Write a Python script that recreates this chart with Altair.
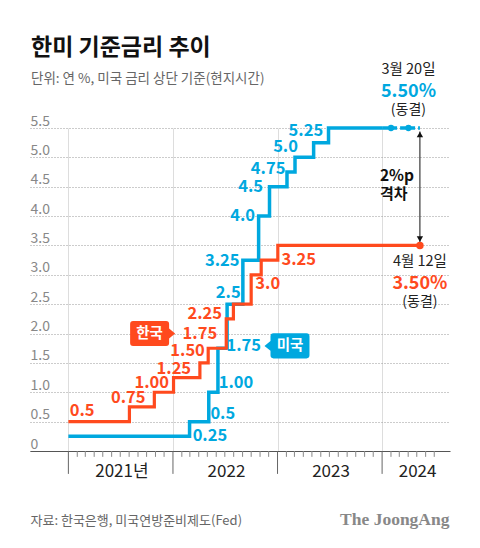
import altair as alt
import pandas as pd

# ---------------- data ----------------
# Korea base rate (red), step changes
kr_dates = ["2021-01-01", "2021-08-02", "2021-10-28", "2022-01-03", "2022-04-05", "2022-05-04",
            "2022-07-06", "2022-07-31", "2022-10-01", "2022-11-05", "2023-01-02", "2024-05-12"]
kr_rates = [0.5, 0.75, 1.0, 1.25, 1.5, 1.75, 2.25, 2.5, 3.0, 3.25, 3.5, 3.5]

# US fed funds upper bound (blue), step changes
us_dates = ["2021-01-01", "2022-02-28", "2022-05-06", "2022-06-07", "2022-07-09", "2022-09-02",
            "2022-10-27", "2022-12-04", "2023-02-03", "2023-03-03", "2023-05-07", "2023-06-28",
            "2024-01-01"]
us_rates = [0.25, 0.5, 1.0, 1.75, 2.5, 3.25, 4.0, 4.5, 4.75, 5.0, 5.25, 5.5, 5.5]
us_hold_dates = ["2024-01-01", "2024-05-12"]
us_hold_rates = [5.5, 5.5]
us_dot_dates = ["2024-02-01", "2024-04-02"]
us_dot_rates = [5.5, 5.5]
kr_dot_dates = ["2024-05-12"]
kr_dot_rates = [3.5]

# value labels along the steps
kr_label_text = ["0.5", "0.75", "1.00", "1.25", "1.50", "1.75", "2.25", "3.0", "3.25"]
kr_label_dates = ["2021-02-18", "2021-07-29", "2021-10-19", "2022-01-04", "2022-02-21",
                  "2022-04-05", "2022-04-22", "2022-11-28", "2023-03-16"]
kr_label_at = [0.68, 0.90, 1.16, 1.39, 1.70, 2.00, 2.34, 2.84, 3.26]

us_label_text = ["0.25", "0.5", "1.00", "1.75", "2.5", "3.25", "4.0", "4.5", "4.75", "5.0", "5.25"]
us_label_dates = ["2022-05-10", "2022-06-24", "2022-08-09", "2022-09-05", "2022-07-13",
                  "2022-06-22", "2022-09-01", "2022-09-29", "2022-11-29", "2023-01-29", "2023-04-10"]
us_label_at = [0.26, 0.63, 1.15, 1.79, 2.69, 3.24, 4.0, 4.5, 4.81, 5.18, 5.45]

# series tags
tag_text = ["한국", "미국"]
tag_dates = ["2021-10-22", "2023-02-03"]
tag_at = [2.0, 1.79]

# notes
us_note = ["3월 20일", "5.50%", "(동결)"]
kr_note = ["4월 12일", "3.50%", "(동결)"]
gap_note = ["2%p", "격차"]
gap_date = ["2024-05-12"]
gap_top = [5.44]
gap_bottom = [3.56]
gap_mid = [4.5]

years = [2021, 2022, 2023, 2024]
year_labels = ["2021년", "2022", "2023", "2024"]
y_ticks = [0, 0.5, 1.0, 1.5, 2.0, 2.5, 3.0, 3.5, 4.0, 4.5, 5.0, 5.5]

title = "한미 기준금리 추이"
subtitle = "단위: 연 %, 미국 금리 상단 기준(현지시간)"
source = "자료: 한국은행, 미국연방준비제도(Fed)"
logo = "The JoongAng"

# ---------------- styling ----------------
RED = "#FF4A1E"
BLUE = "#00A8DF"
FONT = "Noto Sans CJK KR"

x_scale = alt.Scale(domain=[alt.DateTime(year=2020, month=8, date=20),
                            alt.DateTime(year=2024, month=8, date=25)])
y_scale = alt.Scale(domain=[0, 5.5], nice=False)

year_ticks_dt = [alt.DateTime(year=y, month=1, date=1) for y in years]
# calendar month starts for the small ticks (Jan 2021 .. Jul 2024)
year_tick_dates = [f"{y}-01-01" for y in years]
month_tick_dates = [f"{y}-{m:02d}-01" for y in years for m in range(2, 13)
                    if not (y == 2024 and m > 7)]

year_expr = "''"
for yv, lab in reversed(list(zip(years, year_labels))):
    year_expr = f"(year(datum.value) == {yv} ? '{lab}' : {year_expr})"

x_axis = alt.Axis(
    values=year_ticks_dt,
    title=None,
    grid=True,
    gridColor="#dddddd",
    gridWidth=1,
    domainColor="#555555",
    domainWidth=1,
    ticks=False,
    labelExpr=year_expr,
    labelOffset={"condition": {"test": "year(datum.value) == 2024", "value": 35}, "value": 53},
    labelPadding=25,
    labelBaseline="alphabetic",
    labelFont=FONT,
    labelFontSize=17,
    labelColor="#222222",
    labelOverlap=False,
    labelBound=False,
    labelFlush=False,
)

y_axis = alt.Axis(
    values=y_ticks,
    title=None,
    grid=True,
    gridColor="#999999",
    gridDash=[1, 2],
    gridWidth=1,
    domain=False,
    ticks=False,
    labelAlign="left",
    labelBaseline="alphabetic",
    labelPadding=0,
    labelOffset=-3,
    labelFont=FONT,
    labelFontSize=14,
    labelColor="#888888",
    labelExpr="datum.value == 0 ? '0' : format(datum.value, '.1f')",
)


def X(field="date"):
    return alt.X(f"{field}:T", scale=x_scale, axis=x_axis)


def Y(field="rate"):
    return alt.Y(f"{field}:Q", scale=y_scale, axis=y_axis)


def df(**cols):
    return pd.DataFrame(cols)


us_df = df(date=us_dates, rate=us_rates)
kr_df = df(date=kr_dates, rate=kr_rates)

# axis ticks below the baseline: long at year starts (~23 px), short at months (~6 px)
year_ticks = alt.Chart(df(date=year_tick_dates, rate=[0] * len(year_tick_dates),
                          low=[-0.39] * len(year_tick_dates))).mark_rule(
    color="#666666", strokeWidth=1).encode(x=X(), y=Y(), y2="low:Q")
month_ticks = alt.Chart(df(date=month_tick_dates, rate=[0] * len(month_tick_dates),
                           low=[-0.1] * len(month_tick_dates))).mark_rule(
    color="#888888", strokeWidth=1).encode(x=X(), y=Y(), y2="low:Q")

us_line = alt.Chart(us_df).mark_line(interpolate="step-after", color=BLUE, strokeWidth=3.5).encode(
    x=X(), y=Y())
us_hold = alt.Chart(df(date=us_hold_dates, rate=us_hold_rates)).mark_line(
    color=BLUE, strokeWidth=3.5, strokeDash=[6, 3]).encode(x=X(), y=Y())
us_dots = alt.Chart(df(date=us_dot_dates, rate=us_dot_rates)).mark_point(
    filled=True, color=BLUE, opacity=1, size=40, shape="circle").encode(x=X(), y=Y())

kr_line = alt.Chart(kr_df).mark_line(interpolate="step-after", color=RED, strokeWidth=3.2).encode(
    x=X(), y=Y())
kr_dot = alt.Chart(df(date=kr_dot_dates, rate=kr_dot_rates)).mark_point(
    filled=True, color=RED, opacity=1, size=56, shape="circle").encode(x=X(), y=Y())

label_style = dict(font=FONT, fontSize=16.5, fontWeight="bold", align="center", baseline="middle")
kr_labels = alt.Chart(df(date=kr_label_dates, rate=kr_label_at, t=kr_label_text)).mark_text(
    color=RED, **label_style).encode(x=X(), y=Y(), text="t:N")
us_labels = alt.Chart(df(date=us_label_dates, rate=us_label_at, t=us_label_text)).mark_text(
    color=BLUE, **label_style).encode(x=X(), y=Y(), text="t:N")

# tags: rounded box with a pointer
TAG_RIGHT = ("M -0.867 -0.556 L 0.6 -0.556 Q 0.733 -0.556 0.733 -0.422 L 0.733 -0.222 L 1 0 "
             "L 0.733 0.222 L 0.733 0.422 Q 0.733 0.556 0.6 0.556 L -0.867 0.556 "
             "Q -1 0.556 -1 0.422 L -1 -0.422 Q -1 -0.556 -0.867 -0.556 Z")
TAG_LEFT = ("M 0.867 -0.556 L -0.6 -0.556 Q -0.733 -0.556 -0.733 -0.422 L -0.733 -0.222 L -1 0 "
            "L -0.733 0.222 L -0.733 0.422 Q -0.733 0.556 -0.6 0.556 L 0.867 0.556 "
            "Q 1 0.556 1 0.422 L 1 -0.422 Q 1 -0.556 0.867 -0.556 Z")
kr_tag_df = df(date=[tag_dates[0]], rate=[tag_at[0]], t=[tag_text[0]])
us_tag_df = df(date=[tag_dates[1]], rate=[tag_at[1]], t=[tag_text[1]])
kr_tag = alt.Chart(kr_tag_df).mark_point(shape=TAG_RIGHT, filled=True, color=RED, opacity=1,
                                         size=2025, strokeWidth=0).encode(x=X(), y=Y())
us_tag = alt.Chart(us_tag_df).mark_point(shape=TAG_LEFT, filled=True, color=BLUE, opacity=1,
                                         size=2025, strokeWidth=0).encode(x=X(), y=Y())
tag_style = dict(font=FONT, fontSize=14.5, fontWeight="bold", color="white", align="center",
                 baseline="middle")
kr_tag_t = alt.Chart(kr_tag_df).mark_text(dx=-3, **tag_style).encode(x=X(), y=Y(), text="t:N")
us_tag_t = alt.Chart(us_tag_df).mark_text(dx=3, **tag_style).encode(x=X(), y=Y(), text="t:N")


def note_layer(dates, rate, text, dy, color, size, weight, align="center", dx=0):
    d = df(date=dates, rate=rate, t=[text])
    return alt.Chart(d).mark_text(font=FONT, fontSize=size, fontWeight=weight, color=color,
                                  align=align, baseline="alphabetic", dx=dx, dy=dy).encode(
        x=X(), y=Y(), text="t:N")


us_anchor = [us_dot_dates[-1]]
kr_anchor = kr_dot_dates
notes = [
    note_layer(us_anchor, [5.5], us_note[0], -54, "#222222", 14.5, "normal"),
    note_layer(us_anchor, [5.5], us_note[1], -31.5, BLUE, 18, "bold"),
    note_layer(us_anchor, [5.5], us_note[2], -14, "#222222", 14, "normal"),
    note_layer(kr_anchor, [3.5], kr_note[0], 20.5, "#222222", 14.5, "normal"),
    note_layer(kr_anchor, [3.5], kr_note[1], 43.5, RED, 18, "bold"),
    note_layer(kr_anchor, [3.5], kr_note[2], 61, "#222222", 14, "normal"),
    note_layer(gap_date, gap_mid, gap_note[0], -5.5, "#111111", 15.5, "bold", align="left", dx=-40),
    note_layer(gap_date, gap_mid, gap_note[1], 12.5, "#111111", 15, "bold", align="left", dx=-40),
]

gap_df = df(date=gap_date, rate=gap_top, bottom=gap_bottom)
gap_rule = alt.Chart(gap_df).mark_rule(color="#111111", strokeWidth=1).encode(
    x=X(), y=Y(), y2="bottom:Q")
gap_up = alt.Chart(df(date=gap_date, rate=[gap_top[0] - 0.05])).mark_point(
    shape="triangle-up", filled=True, color="#111111", opacity=1, size=40).encode(x=X(), y=Y())
gap_down = alt.Chart(df(date=gap_date, rate=[gap_bottom[0] + 0.05])).mark_point(
    shape="triangle-down", filled=True, color="#111111", opacity=1, size=40).encode(x=X(), y=Y())


def fixed_text(text, x, y, size, color, weight="normal", align="left", font=FONT):
    return alt.Chart(df(t=[text])).mark_text(font=font, fontSize=size, fontWeight=weight, color=color,
                                             align=align, baseline="alphabetic").encode(
        x=alt.value(x), y=alt.value(y), text="t:N")


texts = [
    fixed_text(title, 1, -73, 23, "#111111", "bold"),
    fixed_text(subtitle, 1, -45, 13.5, "#666666"),
    fixed_text(source, 0.5, 397, 13, "#666666"),
    fixed_text(logo, 419.5, 397, 17.5, "#888888", "bold", "right", "Liberation Serif"),
]

chart = alt.layer(
    year_ticks, month_ticks,
    us_line, us_hold, kr_line, us_dots, kr_dot,
    gap_rule, gap_up, gap_down,
    kr_labels, us_labels,
    kr_tag, us_tag, kr_tag_t, us_tag_t,
    *notes, *texts,
).properties(
    width=420,
    height=323,
    autosize=alt.AutoSizeParams(type="none"),
    padding={"left": 22, "top": 120, "right": 22, "bottom": 88},
    background="white",
).configure_view(stroke=None)

chart.save("out.html", embed_options={"renderer": "svg", "actions": False})
